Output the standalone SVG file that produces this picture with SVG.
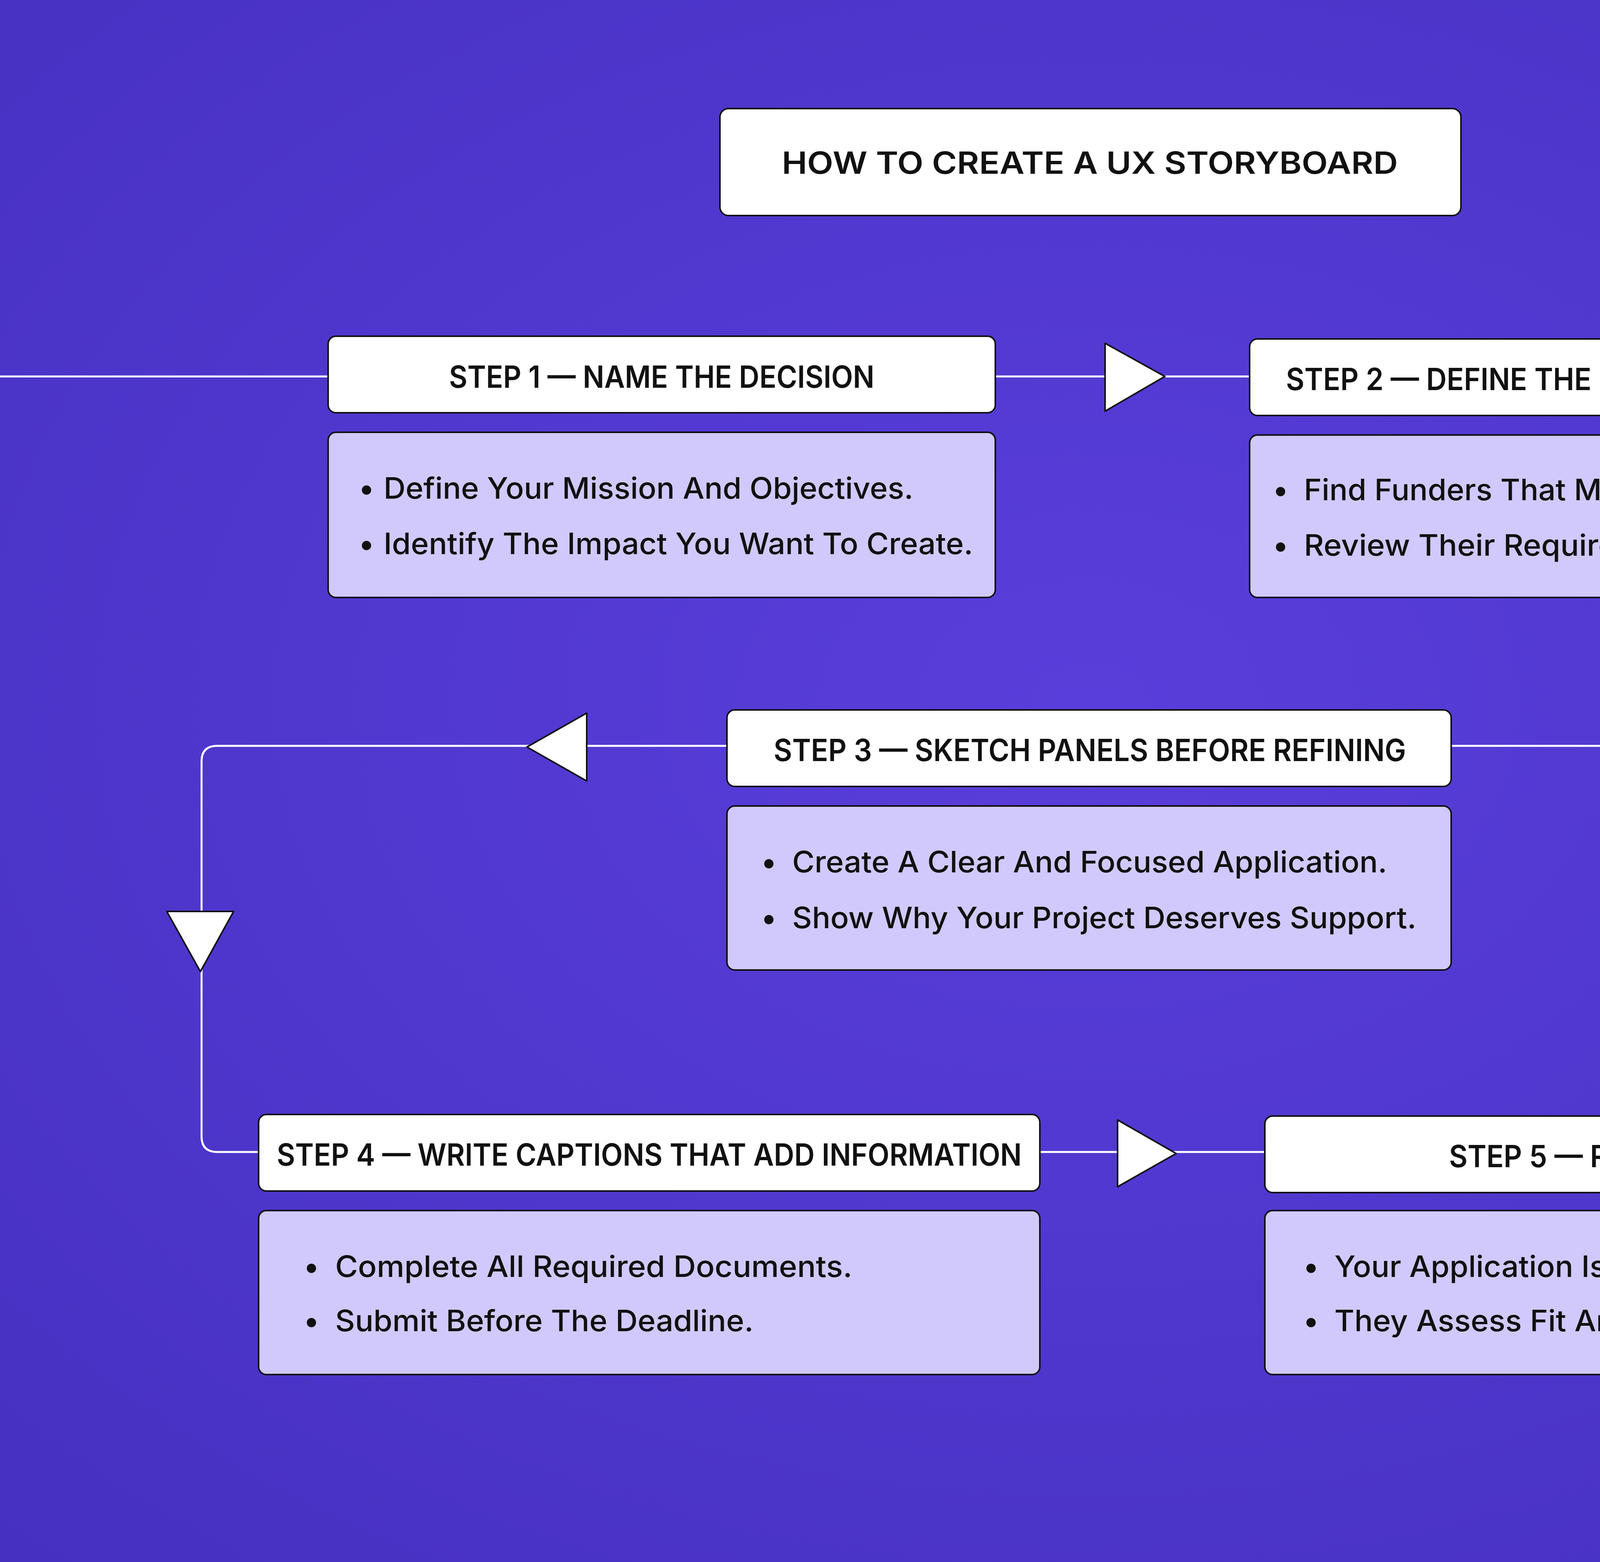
<svg xmlns="http://www.w3.org/2000/svg" width="5580" height="4000" viewBox="0 0 5580 4000">
<defs>
<radialGradient id="bg" cx="0.5" cy="0.45" r="0.75">
<stop offset="0" stop-color="#5a3edb"/>
<stop offset="1" stop-color="#4530c0"/>
</radialGradient>
<style>
.hd{fill:#fff;stroke:#111;stroke-width:4}
.bd{fill:#d1c9fb;stroke:#111;stroke-width:4}
.ht{font-family:Inter,"Liberation Sans",sans-serif;font-weight:600;font-size:78px;fill:#111;text-anchor:middle;dominant-baseline:central}
.bt{font-family:Inter,"Liberation Sans",sans-serif;font-weight:500;font-size:76px;fill:#111;dominant-baseline:central}
.ln{fill:none;stroke:#fff;stroke-width:5}
.ar{fill:#fff;stroke:#111;stroke-width:4;stroke-linejoin:round}
</style>
</defs>
<rect width="5580" height="4000" fill="url(#bg)"/>
<g id="connectors">
<path class="ln" d="M0 964H840M2548 964H3199"/>
<path class="ln" d="M4947 964H5053Q5093 964 5093 1004V1870Q5093 1910 5053 1910H3715"/>
<path class="ln" d="M1861 1910H556Q516 1910 516 1950V2910Q516 2950 556 2950H662"/>
<path class="ln" d="M2662 2950H3238M5189 2950H5580"/>
<polygon class="ar" points="2829,879 2982,964 2829,1053"/>
<polygon class="ar" points="5011,1359 5178,1359 5093,1516"/>
<polygon class="ar" points="4327,1826 4327,2000 4171,1913"/>
<polygon class="ar" points="1502,1826 1502,2000 1349,1913"/>
<polygon class="ar" points="427,2334 598,2334 513,2488"/>
<polygon class="ar" points="2861,2868 3011,2954 2861,3039"/>
</g>
<g id="title">
<rect class="hd" x="1843" y="278" width="1897" height="274" rx="22"/>
<text class="ht" x="2790" y="416" font-size="92" font-weight="500" textLength="1577" lengthAdjust="spacingAndGlyphs">HOW TO CREATE A UX STORYBOARD</text>
</g>
<g id="step1">
<rect class="hd" x="840" y="861" width="1708" height="196" rx="20"/>
<text class="ht" x="1694" y="964" textLength="1089" lengthAdjust="spacingAndGlyphs">STEP 1 — NAME THE DECISION</text>
<rect class="bd" x="840" y="1107" width="1708" height="423" rx="20"/>
<text class="bt" x="918" y="1249">•</text><text class="bt" x="982" y="1249" textLength="1356" lengthAdjust="spacingAndGlyphs">Define Your Mission And Objectives.</text>
<text class="bt" x="918" y="1391">•</text><text class="bt" x="982" y="1391" textLength="1509" lengthAdjust="spacingAndGlyphs">Identify The Impact You Want To Create.</text>
</g>
<g id="step2">
<rect class="hd" x="3199" y="868" width="1748" height="196" rx="20"/>
<text class="ht" x="4075" y="970" textLength="1566" lengthAdjust="spacingAndGlyphs">STEP 2 — DEFINE THE USER AND SCENARIO</text>
<rect class="bd" x="3199" y="1114" width="1765" height="416" rx="20"/>
<text class="bt" x="3258" y="1253">•</text><text class="bt" x="3338" y="1253" textLength="1370" lengthAdjust="spacingAndGlyphs">Find Funders That Match Your Goals.</text>
<text class="bt" x="3258" y="1395">•</text><text class="bt" x="3338" y="1395" textLength="1591" lengthAdjust="spacingAndGlyphs">Review Their Requirements And Priorities.</text>
</g>
<g id="step3">
<rect class="hd" x="1861" y="1818" width="1854" height="196" rx="20"/>
<text class="ht" x="2790" y="1920" textLength="1619" lengthAdjust="spacingAndGlyphs">STEP 3 — SKETCH PANELS BEFORE REFINING</text>
<rect class="bd" x="1861" y="2064" width="1854" height="420" rx="20"/>
<text class="bt" x="1948" y="2206">•</text><text class="bt" x="2028" y="2206" textLength="1523" lengthAdjust="spacingAndGlyphs">Create A Clear And Focused Application.</text>
<text class="bt" x="1948" y="2349">•</text><text class="bt" x="2028" y="2349" textLength="1598" lengthAdjust="spacingAndGlyphs">Show Why Your Project Deserves Support.</text>
</g>
<g id="step4">
<rect class="hd" x="662" y="2854" width="2000" height="196" rx="20"/>
<text class="ht" x="1662" y="2956" textLength="1907" lengthAdjust="spacingAndGlyphs">STEP 4 — WRITE CAPTIONS THAT ADD INFORMATION</text>
<rect class="bd" x="662" y="3100" width="2000" height="420" rx="20"/>
<text class="bt" x="777" y="3242">•</text><text class="bt" x="858" y="3242" textLength="1324" lengthAdjust="spacingAndGlyphs">Complete All Required Documents.</text>
<text class="bt" x="777" y="3381">•</text><text class="bt" x="858" y="3381" textLength="1071" lengthAdjust="spacingAndGlyphs">Submit Before The Deadline.</text>
</g>
<g id="step5">
<rect class="hd" x="3238" y="2858" width="1951" height="196" rx="20"/>
<text class="ht" x="4213" y="2960" textLength="1007" lengthAdjust="spacingAndGlyphs">STEP 5 — REVIEW PROCESS</text>
<rect class="bd" x="3238" y="3100" width="1951" height="420" rx="20"/>
<text class="bt" x="3336" y="3242">•</text><text class="bt" x="3416" y="3242" textLength="1544" lengthAdjust="spacingAndGlyphs">Your Application Is Evaluated By Funders.</text>
<text class="bt" x="3336" y="3381">•</text><text class="bt" x="3416" y="3381" textLength="1416" lengthAdjust="spacingAndGlyphs">They Assess Fit And Potential Impact.</text>
</g>
</svg>
